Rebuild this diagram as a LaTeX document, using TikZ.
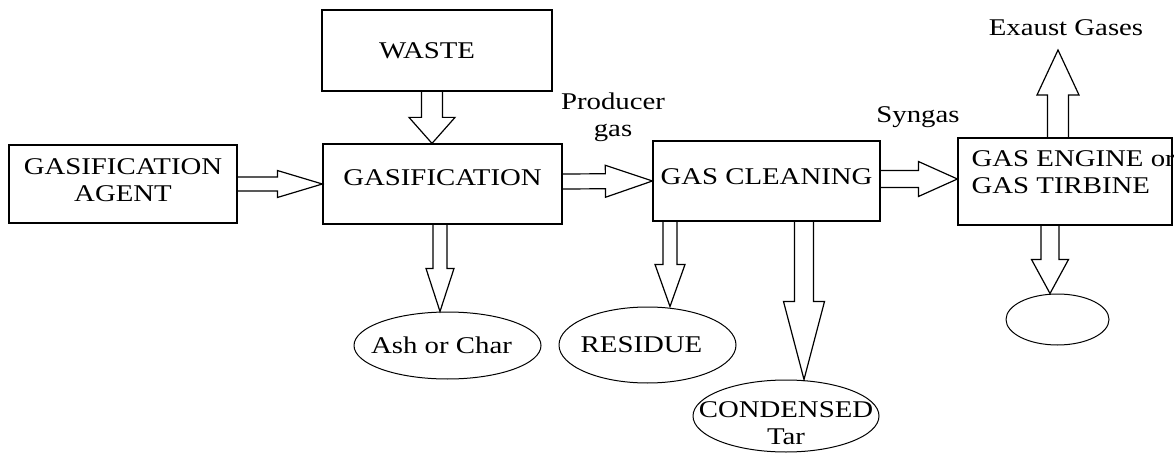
\documentclass[tikz,border=0pt]{standalone}
\usepackage{fontspec}
\setmainfont{Liberation Serif}[FakeStretch=1.2]
\usetikzlibrary{calc,shapes.geometric}
\tikzset{
  box/.style={draw, line width=1.2pt, inner sep=0},
  oval/.style={draw, ellipse, line width=1pt, inner sep=0},
  txt/.style={inner sep=0, align=center, font=\fontsize{24}{27}\selectfont},
  barrow/.style={line width=1.2pt, line join=miter},
}
\newcommand\blockarrow[5]{%
  \path (#1) coordinate (ba-s) (#2) coordinate (ba-e);
  \path ($(ba-e)!#5!(ba-s)$) coordinate (ba-h);
  \draw[barrow] ($(ba-s)!#3!90:(ba-e)$) -- ($(ba-h)!#3!90:(ba-e)$) -- ($(ba-h)!#4!90:(ba-e)$) -- (ba-e)
    -- ($(ba-h)!#4!-90:(ba-e)$) -- ($(ba-h)!#3!-90:(ba-e)$) -- ($(ba-s)!#3!-90:(ba-e)$);
}
\begin{document}
\begin{tikzpicture}[x=1pt,y=-1pt]
\useasboundingbox (0,0) rectangle (1174,454);
% boxes
\node[box, minimum width=228pt, minimum height=78pt,
      label={[txt,yshift=4pt]center:{GASIFICATION\\AGENT}}] (agent) at (123,184) {};
\node[box, minimum width=239pt, minimum height=80pt,
      label={[txt,yshift=6pt]center:GASIFICATION}] (gas) at (442.5,184) {};
\node[box, minimum width=230pt, minimum height=81pt,
      label={[txt,xshift=-10pt]center:WASTE}] (waste) at (437,50.5) {};
\node[box, minimum width=227pt, minimum height=80pt,
      label={[txt,yshift=4pt]center:GAS CLEANING}] (clean) at (766.5,181) {};
\node[box, minimum width=214pt, minimum height=87pt,
      label={[txt,anchor=west,align=left,xshift=14pt,yshift=9pt]west:{GAS ENGINE or\\GAS TIRBINE}}] (engine) at (1065,181.5) {};
% ovals
\node[oval, minimum width=187pt, minimum height=67pt,
      label={[txt,xshift=-6pt]center:Ash or Char}] (ash) at (447.5,345.5) {};
\node[oval, minimum width=177pt, minimum height=76pt,
      label={[txt,xshift=-6pt]center:RESIDUE}] (residue) at (647.5,345) {};
\node[oval, minimum width=186pt, minimum height=72pt,
      label={[txt,yshift=-7pt]center:{CONDENSED\\Tar}}] (cond) at (786,416) {};
\node[oval, minimum width=103pt, minimum height=51pt] (blank) at (1057.5,319.5) {};
% free labels
\node[txt] (prod) at (613,117) {Producer\\gas};
\node[txt] (syn) at (918,117) {Syngas};
\node[txt] (exh) at (1066,28) {Exaust Gases};
\coordinate (exhtip) at (1058,50);
% block arrows
\blockarrow{agent.east}{gas.west}{7pt}{13.5pt}{45pt}
\blockarrow{$(waste.south)+(-5,0)$}{$(gas.north)+(-10.5,0)$}{10.5pt}{23pt}{26pt}
\blockarrow{$(gas.east)+(0,-2.5)$}{clean.west}{7.5pt}{16pt}{47pt}
\blockarrow{$(clean.east)+(0,-2)$}{$(engine.west)+(0,-2.5)$}{8.5pt}{17.5pt}{39pt}
\blockarrow{$(engine.north)+(-7,0)$}{exhtip}{10.5pt}{21pt}{45pt}
\blockarrow{$(engine.south)+(-15,0)$}{$(blank.north)+(-7.5,0)$}{9pt}{18.5pt}{34pt}
\blockarrow{$(gas.south)+(-2.5,0)$}{$(ash.north)+(-7.5,0)$}{7pt}{14pt}{43pt}
\blockarrow{$(clean.south)+(-96.5,0)$}{$(residue.north)+(22.5,0)$}{7pt}{15pt}{42pt}
\blockarrow{$(clean.south)+(37.5,0)$}{$(cond.north)+(18,0)$}{9.5pt}{20.5pt}{78pt}
\end{tikzpicture}
\end{document}
